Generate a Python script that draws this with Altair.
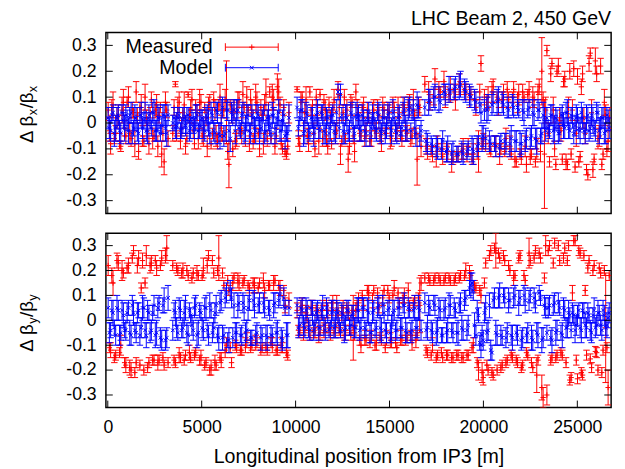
import altair as alt
import pandas as pd

# ---------------- data ----------------
# BPM set A
pos = [20, 150, 280, 420, 560, 690, 830, 960, 1100, 1240, 1370, 1510, 1640, 1780, 1920, 2050, 2190, 2320, 2460, 2600, 2730, 2870, 3000, 3140,
       3460, 3600, 3730, 3870, 4000, 4140, 4280, 4410, 4550, 4680, 4820, 4960, 5090, 5230, 5360, 5500, 5640, 5770, 5910, 6040, 6180, 6320, 6450, 6590,
       6720, 6860, 6990, 7130, 7260, 7400, 7540, 7670, 7810, 7940, 8080, 8220, 8350, 8490, 8620, 8760, 8900, 9030, 9170, 9300, 9440, 9580,
       10080, 10220, 10350, 10490, 10620, 10760, 10900, 11030, 11170, 11300, 11440, 11580, 11710, 11850, 11980, 12120, 12260, 12390, 12530, 12660, 12800, 12940, 13070, 13210,
       13350, 13480, 13620, 13750, 13890, 14030, 14160, 14300, 14430, 14570, 14710, 14840, 14980, 15110, 15250, 15390, 15520, 15660, 15790, 15930, 16070, 16200, 16340, 16470, 16610,
       16880, 17020, 17150, 17290, 17420, 17560, 17700, 17830, 17970, 18100, 18240, 18380, 18510, 18650, 18780, 18920, 19060, 19190, 19330, 19460, 19600, 19740, 19870, 19990,
       20120, 20250, 20390, 20520, 20660, 20800, 20930, 21070, 21200, 21340, 21480, 21610, 21750, 21880, 22020, 22160, 22290, 22430, 22560, 22700, 22840, 22970, 23110, 23250,
       23380, 23520, 23650, 23790, 23920, 24060, 24200, 24330, 24470, 24600, 24740, 24880, 25010, 25150, 25280, 25420, 25560, 25690, 25830, 25960, 26100, 26240, 26370, 26510, 26640]

dbx_meas = [0.05, -0.08, 0.07, -0.04, 0.03, -0.09, 0.08, -0.05, 0.10, -0.06, 0.04, 0.12, -0.11, 0.06, -0.07, 0.02, -0.08, 0.09, -0.05, 0.07, 0.03, -0.12, -0.15, 0.05,
            -0.04, 0.15, 0.06, -0.07, 0.04, -0.09, 0.11, 0.05, -0.03, 0.07, -0.06, 0.08, -0.04, 0.02, 0.06, -0.08, 0.09, -0.05, 0.07, -0.02, 0.05, 0.08, -0.16, 0.04,
            0.05, -0.06, 0.09, -0.03, 0.06, 0.10, -0.08, 0.04, -0.05, 0.08, -0.10, 0.03, 0.07, -0.06, 0.12, 0.10, -0.09, 0.14, 0.07, -0.10, -0.11, -0.09,
            0.13, -0.08, 0.10, 0.04, -0.05, 0.12, 0.06, -0.10, 0.03, 0.11, -0.06, 0.05, -0.09, 0.02, 0.06, -0.04, 0.13, -0.12, 0.04, -0.06, -0.14, 0.07, -0.05, 0.12,
            0.04, -0.05, 0.06, -0.03, 0.02, -0.06, 0.05, -0.04, 0.03, -0.07, 0.05, -0.02, 0.04, -0.05, 0.06, -0.03, 0.02, -0.06, 0.05, -0.04, 0.07, -0.05, 0.03, -0.14, 0.06,
            0.15, -0.10, 0.08, -0.12, 0.17, -0.08, 0.12, -0.13, 0.10, -0.11, 0.13, -0.14, 0.09, -0.12, 0.14, -0.10, 0.12, -0.09, 0.11, -0.12, 0.06, -0.11, 0.23, -0.07,
            -0.08, 0.10, -0.11, 0.14, -0.09, 0.06, -0.10, 0.12, -0.06, 0.09, -0.12, 0.13, -0.15, 0.11, -0.13, 0.10, -0.16, 0.12, -0.12, 0.09, -0.10, 0.14, 0.20, -0.12,
            0.28, -0.15, 0.23, -0.10, 0.20, 0.02, -0.14, 0.17, -0.16, 0.20, 0.05, -0.17, 0.18, -0.13, 0.19, -0.04, -0.20, 0.27, -0.18, 0.24, -0.06, 0.22, -0.12, 0.03, -0.07]

dbx_meas_err = [0.03, 0.04, 0.05, 0.03, 0.04, 0.02, 0.05, 0.03, 0.04, 0.03, 0.02, 0.04, 0.03, 0.05, 0.02, 0.03, 0.04, 0.03, 0.02, 0.04, 0.03, 0.05, 0.05, 0.03,
                0.03, 0.01, 0.04, 0.03, 0.02, 0.03, 0.01, 0.04, 0.03, 0.02, 0.04, 0.03, 0.05, 0.03, 0.04, 0.02, 0.03, 0.04, 0.02, 0.05, 0.03, 0.16, 0.09, 0.04,
                0.04, 0.03, 0.03, 0.05, 0.02, 0.04, 0.03, 0.05, 0.03, 0.04, 0.03, 0.02, 0.04, 0.03, 0.02, 0.05, 0.03, 0.05, 0.03, 0.02, 0.02, 0.03,
                0.01, 0.03, 0.02, 0.04, 0.03, 0.02, 0.03, 0.03, 0.04, 0.02, 0.03, 0.04, 0.03, 0.03, 0.02, 0.04, 0.03, 0.04, 0.03, 0.02, 0.05, 0.04, 0.03, 0.03,
                0.03, 0.02, 0.04, 0.03, 0.02, 0.03, 0.04, 0.02, 0.03, 0.04, 0.03, 0.02, 0.03, 0.04, 0.02, 0.03, 0.04, 0.03, 0.02, 0.03, 0.04, 0.03, 0.02, 0.10, 0.03,
                0.03, 0.04, 0.03, 0.03, 0.04, 0.03, 0.02, 0.03, 0.04, 0.03, 0.05, 0.02, 0.04, 0.03, 0.02, 0.04, 0.03, 0.03, 0.02, 0.04, 0.03, 0.08, 0.03, 0.03,
                0.03, 0.04, 0.02, 0.03, 0.04, 0.03, 0.02, 0.03, 0.04, 0.03, 0.02, 0.03, 0.02, 0.04, 0.03, 0.02, 0.03, 0.04, 0.02, 0.03, 0.04, 0.03, 0.13, 0.21,
                0.02, 0.02, 0.02, 0.03, 0.02, 0.04, 0.02, 0.03, 0.02, 0.03, 0.04, 0.02, 0.03, 0.02, 0.03, 0.04, 0.02, 0.02, 0.03, 0.05, 0.04, 0.03, 0.02, 0.04, 0.04]

dbx_model = [0.02, -0.03, 0.04, -0.02, 0.03, -0.04, 0.01, 0.03, -0.03, 0.04, -0.02, 0.02, -0.04, 0.03, 0.01, -0.03, 0.03, -0.02, 0.04, -0.03, 0.02, -0.01, 0.03, -0.04,
             0.00, -0.02, 0.02, -0.03, 0.01, -0.01, 0.03, -0.02, 0.00, 0.02, -0.03, 0.01, -0.02, 0.03, 0.00, 0.04, -0.03, 0.05, -0.04, 0.04, -0.05, 0.05, -0.03, 0.04,
             0.05, 0.04, -0.02, 0.03, -0.04, 0.02, -0.03, 0.03, -0.02, 0.04, -0.03, 0.01, -0.04, 0.02, -0.01, 0.03, -0.04, 0.02, -0.03, 0.01, -0.05, -0.04,
             0.06, 0.02, 0.05, -0.03, 0.03, -0.04, 0.02, -0.02, 0.04, -0.03, 0.03, -0.04, 0.02, -0.02, 0.03, -0.04, 0.12, 0.11, -0.03, 0.03, -0.04, 0.04, -0.02, 0.03,
             0.03, -0.03, 0.02, -0.04, 0.04, -0.02, 0.01, -0.03, 0.03, -0.04, 0.02, -0.02, 0.04, -0.03, 0.02, -0.04, 0.03, -0.02, 0.05, -0.03, 0.06, 0.04, -0.02, 0.07, -0.05,
             0.06, -0.08, 0.09, -0.09, 0.10, -0.10, 0.08, -0.07, 0.11, -0.10, 0.12, -0.11, 0.14, -0.12, 0.15, -0.12, 0.12, -0.10, 0.10, -0.11, 0.08, -0.08, 0.04, -0.05,
             -0.06, 0.06, -0.08, 0.08, -0.09, 0.09, -0.07, 0.07, -0.08, 0.05, -0.06, 0.06, -0.07, 0.05, -0.08, 0.04, -0.06, 0.06, -0.05, 0.03, -0.07, 0.05, -0.04, 0.02,
             0.02, -0.03, 0.03, -0.02, 0.01, -0.04, 0.03, -0.02, 0.04, -0.03, 0.02, -0.01, 0.03, -0.03, 0.02, -0.04, 0.03, -0.02, 0.01, -0.03, 0.04, -0.02, 0.02, -0.03, 0.01]

model_err = [0.04, 0.04, 0.03, 0.05, 0.04, 0.04, 0.03, 0.04, 0.05, 0.04, 0.03, 0.04, 0.04, 0.05, 0.03, 0.04, 0.04, 0.03, 0.05, 0.04, 0.04, 0.03, 0.04, 0.05,
             0.03, 0.04, 0.04, 0.03, 0.05, 0.04, 0.03, 0.04, 0.04, 0.05, 0.03, 0.04, 0.04, 0.03, 0.05, 0.04, 0.04, 0.03, 0.04, 0.05, 0.04, 0.03, 0.04, 0.04,
             0.04, 0.05, 0.03, 0.04, 0.04, 0.05, 0.03, 0.04, 0.04, 0.03, 0.05, 0.04, 0.04, 0.03, 0.04, 0.05, 0.04, 0.03, 0.04, 0.04, 0.05, 0.03,
             0.04, 0.03, 0.04, 0.05, 0.04, 0.03, 0.04, 0.04, 0.05, 0.03, 0.04, 0.04, 0.03, 0.05, 0.04, 0.04, 0.03, 0.04, 0.05, 0.04, 0.03, 0.04, 0.04, 0.05,
             0.04, 0.04, 0.03, 0.05, 0.04, 0.04, 0.03, 0.04, 0.05, 0.04, 0.03, 0.04, 0.04, 0.05, 0.03, 0.04, 0.04, 0.03, 0.05, 0.04, 0.04, 0.03, 0.04, 0.05, 0.04,
             0.03, 0.04, 0.04, 0.03, 0.05, 0.04, 0.03, 0.04, 0.04, 0.05, 0.03, 0.04, 0.04, 0.03, 0.05, 0.04, 0.04, 0.03, 0.04, 0.05, 0.04, 0.03, 0.04, 0.04,
             0.04, 0.05, 0.03, 0.04, 0.04, 0.05, 0.03, 0.04, 0.04, 0.03, 0.05, 0.04, 0.04, 0.03, 0.04, 0.05, 0.04, 0.03, 0.04, 0.04, 0.05, 0.03, 0.04, 0.04,
             0.04, 0.03, 0.04, 0.05, 0.04, 0.03, 0.04, 0.04, 0.05, 0.03, 0.04, 0.04, 0.03, 0.05, 0.04, 0.04, 0.03, 0.04, 0.05, 0.04, 0.03, 0.04, 0.04, 0.05, 0.04]

dby_meas = [0.22, -0.12, 0.15, -0.14, 0.23, -0.10, 0.19, -0.18, 0.22, -0.20, 0.28, -0.17, 0.25, 0.13, -0.20, 0.26, -0.17, 0.23, -0.16, 0.21, -0.16, 0.25, -0.18, 0.29,
            0.22, -0.17, 0.20, -0.15, 0.20, -0.14, 0.18, -0.15, 0.19, -0.13, 0.18, -0.15, 0.21, -0.17, 0.26, -0.19, 0.19, -0.18, 0.25, -0.16, 0.14, -0.10, 0.12, -0.17,
            0.17, -0.11, 0.15, -0.12, 0.16, -0.08, 0.13, -0.10, 0.14, -0.09, 0.15, -0.11, 0.12, -0.12, 0.14, -0.10, 0.16, -0.12, 0.13, -0.11, 0.06, -0.14,
            0.04, -0.05, 0.06, -0.03, 0.02, -0.06, 0.05, -0.04, 0.03, -0.05, 0.06, -0.02, 0.04, -0.06, 0.07, -0.03, 0.02, -0.05, 0.05, -0.04, 0.03, -0.06, -0.03, 0.04,
            0.09, -0.10, 0.06, -0.08, 0.11, -0.06, 0.12, -0.09, 0.05, -0.08, 0.12, -0.07, 0.09, -0.09, 0.13, -0.11, 0.07, -0.08, 0.10, -0.07, 0.06, -0.09, 0.08, -0.06, 0.06,
            0.17, -0.13, 0.16, -0.10, 0.17, -0.14, 0.16, -0.15, 0.17, -0.14, 0.16, -0.15, 0.17, -0.14, 0.18, -0.15, 0.20, -0.14, 0.18, -0.10, 0.13, -0.20, 0.10, -0.23,
            0.23, -0.20, 0.28, -0.22, 0.28, 0.27, -0.19, 0.26, -0.17, 0.22, -0.14, 0.17, -0.16, 0.25, -0.19, 0.18, -0.13, 0.27, -0.17, 0.25, -0.22, 0.27, -0.27, 0.17,
            -0.30, 0.30, -0.15, 0.31, -0.14, 0.24, -0.14, 0.29, 0.24, -0.24, 0.11, 0.32, -0.235, 0.27, -0.22, 0.12, 0.21, -0.155, 0.20, -0.125, -0.20, 0.19, -0.12, -0.03, -0.27]

dby_meas_err = [0.04, 0.03, 0.05, 0.02, 0.03, 0.04, 0.02, 0.03, 0.03, 0.03, 0.02, 0.02, 0.03, 0.02, 0.02, 0.04, 0.02, 0.03, 0.02, 0.03, 0.02, 0.03, 0.02, 0.05,
                0.02, 0.02, 0.02, 0.02, 0.03, 0.02, 0.02, 0.02, 0.02, 0.02, 0.02, 0.03, 0.04, 0.02, 0.02, 0.03, 0.02, 0.02, 0.09, 0.03, 0.02, 0.03, 0.02, 0.02,
                0.02, 0.02, 0.03, 0.02, 0.02, 0.03, 0.02, 0.02, 0.03, 0.02, 0.02, 0.02, 0.03, 0.02, 0.02, 0.03, 0.02, 0.02, 0.03, 0.02, 0.03, 0.02,
                0.03, 0.02, 0.03, 0.02, 0.03, 0.02, 0.03, 0.03, 0.02, 0.03, 0.02, 0.03, 0.03, 0.02, 0.03, 0.02, 0.03, 0.02, 0.03, 0.02, 0.03, 0.02, 0.13, 0.03,
                0.02, 0.03, 0.02, 0.02, 0.03, 0.02, 0.02, 0.03, 0.02, 0.02, 0.02, 0.03, 0.02, 0.02, 0.03, 0.02, 0.02, 0.02, 0.03, 0.02, 0.02, 0.03, 0.02, 0.02, 0.11,
                0.02, 0.02, 0.02, 0.03, 0.02, 0.02, 0.02, 0.02, 0.02, 0.02, 0.02, 0.02, 0.02, 0.02, 0.02, 0.02, 0.03, 0.02, 0.02, 0.03, 0.02, 0.04, 0.03, 0.03,
                0.02, 0.02, 0.02, 0.02, 0.07, 0.02, 0.02, 0.02, 0.02, 0.02, 0.02, 0.03, 0.02, 0.02, 0.02, 0.02, 0.02, 0.06, 0.02, 0.02, 0.07, 0.02, 0.05, 0.02,
                0.04, 0.02, 0.02, 0.02, 0.02, 0.02, 0.02, 0.02, 0.02, 0.02, 0.03, 0.02, 0.02, 0.02, 0.02, 0.02, 0.02, 0.02, 0.02, 0.02, 0.02, 0.02, 0.02, 0.22, 0.07]

dby_model = [0.05, -0.04, 0.03, -0.06, 0.04, -0.05, 0.02, -0.04, 0.05, -0.06, 0.03, -0.05, 0.04, -0.03, 0.05, -0.06, 0.03, -0.04, 0.06, -0.05, 0.07, -0.08, 0.08, -0.07,
             -0.04, 0.03, -0.05, 0.04, -0.03, 0.05, -0.06, 0.02, -0.04, 0.06, -0.05, 0.03, -0.04, 0.05, -0.06, 0.04, -0.03, 0.06, -0.07, 0.08, -0.06, 0.11, -0.08, 0.09,
             0.06, -0.05, 0.07, -0.06, 0.05, -0.04, 0.08, -0.07, 0.06, -0.05, 0.07, -0.06, 0.05, -0.07, 0.04, -0.06, 0.07, -0.05, 0.10, -0.08, 0.05, -0.06,
             0.06, -0.02, 0.04, -0.03, 0.05, -0.04, 0.03, -0.02, 0.04, -0.03, 0.05, -0.04, 0.03, -0.03, 0.04, -0.02, 0.03, -0.04, 0.02, -0.03, 0.04, -0.02, 0.03, -0.03,
             0.04, -0.03, 0.05, -0.04, 0.03, -0.05, 0.04, -0.03, 0.06, -0.04, 0.03, -0.05, 0.05, -0.03, 0.04, -0.04, 0.05, -0.03, 0.06, -0.05, 0.04, -0.04, 0.05, -0.03, 0.04,
             0.07, -0.03, 0.05, -0.05, 0.06, -0.04, 0.04, -0.06, 0.05, -0.04, 0.06, -0.05, 0.04, -0.05, 0.07, -0.04, 0.09, -0.02, 0.14, 0.12, -0.06, 0.02, -0.10, -0.08,
             0.05, -0.04, -0.12, 0.08, -0.05, 0.09, -0.06, 0.10, -0.07, 0.08, -0.06, 0.09, -0.05, 0.07, -0.08, 0.10, -0.06, 0.08, -0.07, 0.09, -0.05, 0.11, -0.08, 0.06,
             -0.05, 0.06, -0.08, 0.07, -0.04, 0.05, -0.06, 0.04, -0.03, 0.02, 0.03, -0.04, 0.02, -0.03, 0.04, -0.02, 0.03, -0.04, 0.02, -0.03, 0.03, -0.02, 0.04, -0.03, 0.01]

# BPM set B (interleaved with set A)
pos2 = [85, 215, 350, 490, 625, 760, 895, 1030, 1170, 1305, 1440, 1575, 1710, 1850, 1985, 2120, 2255, 2390, 2530, 2665, 2800, 2935, 3070, 3210,
        3530, 3665, 3800, 3935, 4070, 4210, 4345, 4480, 4615, 4750, 4890, 5025, 5160, 5295, 5430, 5570, 5705, 5840, 5975, 6110, 6250, 6385, 6520, 6655,
        6790, 6925, 7060, 7195, 7330, 7470, 7605, 7740, 7875, 8010, 8150, 8285, 8420, 8555, 8690, 8830, 8965, 9100, 9235, 9370, 9510, 9645,
        10150, 10285, 10420, 10555, 10690, 10830, 10965, 11100, 11235, 11370, 11510, 11645, 11780, 11915, 12050, 12190, 12325, 12460, 12595, 12730, 12870, 13005, 13140, 13280,
        13415, 13550, 13685, 13820, 13960, 14095, 14230, 14365, 14500, 14640, 14775, 14910, 15045, 15180, 15320, 15455, 15590, 15725, 15860, 16000, 16135, 16270, 16405, 16540, 16680,
        16950, 17085, 17220, 17355, 17490, 17630, 17765, 17900, 18035, 18170, 18310, 18445, 18580, 18715, 18850, 18990, 19125, 19260, 19395, 19530, 19670, 19805, 19930, 20055,
        20185, 20320, 20455, 20590, 20730, 20865, 21000, 21135, 21270, 21410, 21545, 21680, 21815, 21950, 22090, 22225, 22360, 22495, 22630, 22770, 22905, 23040, 23180, 23315,
        23450, 23585, 23720, 23855, 23990, 24130, 24265, 24400, 24535, 24670, 24810, 24945, 25080, 25215, 25350, 25490, 25625, 25760, 25895, 26030, 26170, 26305, 26440, 26575, 26700]

dbx_meas2 = [-0.03, 0.06, -0.06, 0.02, -0.07, 0.05, -0.02, 0.08, -0.04, 0.05, -0.08, 0.03, 0.06, -0.05, 0.10, -0.03, 0.04, -0.06, 0.05, -0.09, 0.06, -0.04, 0.08, -0.06,
             0.06, -0.05, 0.08, -0.02, 0.07, -0.06, 0.03, 0.09, -0.08, 0.04, 0.08, -0.05, 0.06, -0.09, 0.08, -0.04, 0.05, -0.07, 0.10, -0.05, 0.09, -0.11, 0.07, -0.10,
             -0.07, 0.08, -0.04, 0.11, -0.06, 0.05, 0.09, -0.07, 0.10, -0.04, 0.06, -0.08, 0.11, 0.05, -0.06, 0.09, -0.05, 0.12, -0.08, 0.06, -0.12, 0.04,
             -0.06, 0.08, -0.03, 0.09, -0.08, 0.05, -0.04, 0.10, -0.07, 0.04, 0.08, -0.05, 0.07, -0.08, 0.09, -0.03, 0.06, -0.07, 0.10, 0.05, -0.09, 0.08, -0.11, 0.06,
             -0.04, 0.06, -0.05, 0.05, -0.07, 0.04, -0.03, 0.07, -0.05, 0.06, -0.04, 0.05, -0.06, 0.08, -0.04, 0.06, -0.05, 0.07, -0.03, 0.08, -0.06, 0.09, -0.04, 0.07, -0.09,
             -0.09, 0.12, -0.11, 0.10, -0.13, 0.13, -0.10, 0.16, -0.12, 0.11, -0.15, 0.12, -0.13, 0.15, -0.11, 0.13, -0.12, 0.10, -0.14, 0.09, -0.10, 0.12, -0.08, 0.10,
             0.08, -0.10, 0.12, -0.08, 0.10, -0.12, 0.09, -0.11, 0.13, -0.09, 0.10, -0.14, 0.08, -0.12, 0.12, -0.09, 0.11, -0.13, 0.10, -0.15, 0.12, -0.11, 0.09, 0.05,
             -0.04, 0.19, 0.05, -0.16, 0.22, -0.03, 0.16, -0.15, 0.06, -0.12, 0.21, -0.04, -0.15, 0.14, 0.02, -0.18, 0.23, 0.04, -0.14, 0.19, -0.05, -0.16, 0.08, -0.10, 0.02]

dbx_meas_err2 = [0.04, 0.03, 0.02, 0.04, 0.03, 0.05, 0.03, 0.02, 0.04, 0.03, 0.05, 0.03, 0.02, 0.04, 0.05, 0.03, 0.02, 0.04, 0.03, 0.04, 0.02, 0.03, 0.04, 0.03,
                 0.03, 0.02, 0.04, 0.03, 0.05, 0.02, 0.03, 0.04, 0.02, 0.03, 0.05, 0.03, 0.02, 0.04, 0.03, 0.02, 0.04, 0.03, 0.05, 0.02, 0.04, 0.03, 0.02, 0.03,
                 0.03, 0.04, 0.02, 0.05, 0.03, 0.02, 0.04, 0.03, 0.05, 0.02, 0.03, 0.04, 0.06, 0.03, 0.02, 0.04, 0.03, 0.05, 0.02, 0.03, 0.02, 0.04,
                 0.03, 0.04, 0.02, 0.05, 0.03, 0.02, 0.04, 0.03, 0.05, 0.02, 0.03, 0.04, 0.03, 0.02, 0.04, 0.03, 0.05, 0.02, 0.03, 0.04, 0.03, 0.02, 0.04, 0.03,
                 0.03, 0.02, 0.04, 0.03, 0.02, 0.04, 0.03, 0.02, 0.03, 0.04, 0.02, 0.03, 0.04, 0.02, 0.03, 0.04, 0.02, 0.03, 0.04, 0.02, 0.03, 0.04, 0.02, 0.03, 0.04,
                 0.03, 0.04, 0.02, 0.03, 0.04, 0.03, 0.02, 0.04, 0.03, 0.02, 0.04, 0.03, 0.02, 0.04, 0.03, 0.02, 0.03, 0.04, 0.02, 0.03, 0.04, 0.03, 0.02, 0.03,
                 0.03, 0.02, 0.04, 0.03, 0.02, 0.04, 0.03, 0.02, 0.03, 0.04, 0.02, 0.03, 0.04, 0.02, 0.03, 0.04, 0.02, 0.03, 0.04, 0.02, 0.03, 0.04, 0.03, 0.05,
                 0.04, 0.03, 0.05, 0.02, 0.03, 0.04, 0.02, 0.03, 0.04, 0.02, 0.03, 0.05, 0.02, 0.03, 0.04, 0.02, 0.03, 0.05, 0.02, 0.03, 0.04, 0.02, 0.05, 0.03, 0.04]

dbx_model2 = [-0.02, 0.03, -0.04, 0.02, -0.03, 0.04, -0.02, 0.01, 0.03, -0.04, 0.02, -0.03, 0.03, -0.02, 0.04, -0.03, 0.01, 0.04, -0.03, 0.02, -0.04, 0.03, -0.02, 0.03,
              0.02, -0.01, 0.03, -0.02, 0.02, 0.01, -0.03, 0.02, -0.02, 0.03, -0.01, 0.02, -0.03, 0.02, -0.04, 0.03, -0.04, 0.04, -0.05, 0.06, -0.04, 0.05, -0.06, 0.03,
              -0.03, 0.05, -0.03, 0.04, -0.02, 0.03, -0.04, 0.02, -0.03, 0.03, -0.02, 0.04, -0.03, 0.02, -0.04, 0.03, -0.02, 0.04, -0.03, 0.03, -0.04, 0.02,
              -0.02, 0.05, -0.04, 0.04, -0.03, 0.02, -0.04, 0.03, -0.02, 0.04, -0.03, 0.02, -0.04, 0.03, -0.03, 0.04, -0.02, 0.03, -0.04, 0.02, -0.03, 0.03, -0.04, 0.02,
              -0.02, 0.03, -0.03, 0.02, -0.04, 0.03, -0.02, 0.04, -0.03, 0.02, -0.04, 0.03, -0.02, 0.04, -0.03, 0.02, -0.04, 0.04, -0.02, 0.05, -0.03, 0.05, -0.04, 0.06, -0.03,
              -0.07, 0.08, -0.08, 0.10, -0.09, 0.09, -0.10, 0.12, -0.11, 0.13, -0.12, 0.13, -0.12, 0.14, -0.11, 0.13, -0.11, 0.11, -0.10, 0.09, -0.09, 0.07, -0.06, 0.05,
              0.05, -0.07, 0.07, -0.08, 0.08, -0.09, 0.08, -0.07, 0.06, -0.08, 0.07, -0.07, 0.06, -0.08, 0.05, -0.07, 0.05, -0.06, 0.04, -0.06, 0.05, -0.05, 0.03, -0.03,
              -0.02, 0.03, -0.03, 0.02, -0.04, 0.03, -0.01, 0.04, -0.02, 0.03, -0.04, 0.02, -0.02, 0.04, -0.03, 0.02, -0.03, 0.03, -0.02, 0.04, -0.03, 0.02, -0.04, 0.03, -0.02]

model_err2 = [0.04, 0.03, 0.05, 0.04, 0.04, 0.03, 0.05, 0.04, 0.03, 0.04, 0.05, 0.04, 0.03, 0.04, 0.04, 0.05, 0.03, 0.04, 0.04, 0.05, 0.03, 0.04, 0.05, 0.04,
              0.04, 0.05, 0.03, 0.04, 0.04, 0.05, 0.04, 0.03, 0.04, 0.04, 0.05, 0.03, 0.04, 0.05, 0.04, 0.03, 0.04, 0.04, 0.05, 0.04, 0.03, 0.04, 0.05, 0.04,
              0.05, 0.04, 0.03, 0.04, 0.05, 0.04, 0.04, 0.03, 0.05, 0.04, 0.04, 0.03, 0.04, 0.05, 0.04, 0.03, 0.04, 0.05, 0.04, 0.04, 0.03, 0.05,
              0.03, 0.04, 0.05, 0.04, 0.03, 0.04, 0.05, 0.04, 0.04, 0.03, 0.05, 0.04, 0.04, 0.03, 0.04, 0.05, 0.04, 0.03, 0.04, 0.05, 0.04, 0.04, 0.03, 0.04,
              0.05, 0.04, 0.04, 0.03, 0.05, 0.04, 0.04, 0.03, 0.04, 0.05, 0.04, 0.04, 0.03, 0.05, 0.04, 0.04, 0.03, 0.04, 0.05, 0.04, 0.03, 0.04, 0.05, 0.04, 0.04,
              0.04, 0.05, 0.03, 0.04, 0.04, 0.05, 0.04, 0.03, 0.04, 0.05, 0.04, 0.04, 0.03, 0.05, 0.04, 0.04, 0.03, 0.04, 0.05, 0.04, 0.04, 0.03, 0.05, 0.04,
              0.05, 0.04, 0.04, 0.03, 0.05, 0.04, 0.04, 0.03, 0.04, 0.05, 0.04, 0.04, 0.03, 0.05, 0.04, 0.04, 0.03, 0.04, 0.05, 0.04, 0.04, 0.03, 0.05, 0.04,
              0.03, 0.04, 0.05, 0.04, 0.04, 0.03, 0.05, 0.04, 0.04, 0.03, 0.04, 0.05, 0.04, 0.04, 0.03, 0.05, 0.04, 0.04, 0.03, 0.04, 0.05, 0.04, 0.04, 0.03, 0.04]

dby_meas2 = [-0.11, 0.18, -0.15, 0.24, -0.13, 0.20, -0.17, 0.21, -0.19, 0.25, -0.21, 0.22, -0.18, 0.24, 0.15, -0.19, 0.22, -0.16, 0.24, -0.17, 0.22, -0.15, 0.26, -0.17,
             -0.16, 0.21, -0.14, 0.19, -0.16, 0.20, -0.13, 0.17, -0.14, 0.19, -0.16, 0.18, -0.18, 0.22, -0.20, 0.24, -0.17, 0.20, -0.15, 0.19, -0.12, 0.16, -0.11, 0.15,
             -0.10, 0.16, -0.12, 0.15, -0.10, 0.14, -0.11, 0.15, -0.09, 0.13, -0.12, 0.16, -0.11, 0.14, -0.09, 0.15, -0.12, 0.14, -0.10, 0.12, -0.13, 0.08,
             -0.04, 0.05, -0.06, 0.03, -0.02, 0.05, -0.05, 0.04, -0.06, 0.02, -0.04, 0.06, -0.03, 0.05, -0.05, 0.07, -0.04, 0.03, -0.06, 0.05, -0.02, 0.04, -0.05, 0.06,
             -0.08, 0.10, -0.07, 0.12, -0.09, 0.08, -0.10, 0.11, -0.07, 0.09, -0.11, 0.12, -0.08, 0.10, -0.09, 0.11, -0.07, 0.09, -0.08, 0.12, -0.06, 0.07, -0.08, 0.09, 0.15,
             -0.12, 0.17, -0.14, 0.16, -0.15, 0.17, -0.13, 0.16, -0.14, 0.17, -0.15, 0.16, -0.14, 0.17, -0.15, 0.18, -0.14, 0.19, -0.11, 0.14, -0.17, 0.12, -0.21, 0.15,
             -0.18, 0.26, -0.21, 0.29, -0.20, 0.25, -0.18, 0.24, -0.16, 0.20, -0.15, 0.18, -0.17, 0.26, -0.18, 0.16, -0.14, 0.24, -0.19, 0.28, -0.16, 0.25, -0.31, 0.30,
             0.28, -0.16, 0.23, -0.15, 0.30, -0.13, 0.25, -0.17, 0.30, -0.23, 0.32, -0.16, 0.28, -0.21, 0.26, -0.14, 0.24, -0.19, 0.22, -0.13, 0.21, -0.21, 0.20, -0.11, 0.18]

dby_meas_err2 = [0.02, 0.03, 0.02, 0.03, 0.02, 0.04, 0.02, 0.02, 0.03, 0.02, 0.02, 0.03, 0.02, 0.03, 0.02, 0.02, 0.03, 0.02, 0.02, 0.03, 0.02, 0.02, 0.03, 0.02,
                 0.02, 0.02, 0.03, 0.02, 0.02, 0.02, 0.03, 0.02, 0.02, 0.03, 0.02, 0.02, 0.02, 0.03, 0.02, 0.02, 0.03, 0.02, 0.02, 0.02, 0.03, 0.02, 0.02, 0.03,
                 0.02, 0.03, 0.02, 0.02, 0.03, 0.02, 0.02, 0.02, 0.03, 0.02, 0.02, 0.03, 0.02, 0.02, 0.02, 0.03, 0.02, 0.02, 0.03, 0.02, 0.02, 0.03,
                 0.02, 0.03, 0.02, 0.03, 0.02, 0.03, 0.02, 0.02, 0.03, 0.02, 0.03, 0.02, 0.02, 0.03, 0.02, 0.03, 0.02, 0.03, 0.02, 0.02, 0.03, 0.02, 0.03, 0.02,
                 0.02, 0.02, 0.03, 0.02, 0.02, 0.03, 0.02, 0.02, 0.02, 0.03, 0.02, 0.02, 0.03, 0.02, 0.02, 0.02, 0.03, 0.02, 0.02, 0.03, 0.02, 0.02, 0.03, 0.02, 0.03,
                 0.02, 0.02, 0.02, 0.02, 0.02, 0.02, 0.02, 0.02, 0.02, 0.02, 0.02, 0.02, 0.02, 0.02, 0.02, 0.02, 0.02, 0.03, 0.02, 0.02, 0.02, 0.02, 0.04, 0.02,
                 0.02, 0.02, 0.02, 0.02, 0.02, 0.02, 0.02, 0.02, 0.02, 0.02, 0.02, 0.02, 0.02, 0.02, 0.02, 0.02, 0.02, 0.02, 0.02, 0.02, 0.02, 0.02, 0.04, 0.04,
                 0.02, 0.02, 0.02, 0.02, 0.02, 0.02, 0.02, 0.02, 0.02, 0.02, 0.02, 0.02, 0.02, 0.02, 0.02, 0.02, 0.02, 0.02, 0.02, 0.02, 0.02, 0.02, 0.02, 0.02, 0.02]

dby_model2 = [-0.05, 0.04, -0.03, 0.05, -0.06, 0.04, -0.04, 0.03, -0.05, 0.06, -0.04, 0.03, -0.06, 0.05, -0.04, 0.04, -0.05, 0.03, -0.06, 0.05, -0.07, 0.06, -0.08, 0.09,
              0.04, -0.03, 0.05, -0.04, 0.03, -0.05, 0.04, -0.02, 0.05, -0.06, 0.04, -0.03, 0.05, -0.04, 0.06, -0.05, 0.03, -0.06, 0.07, -0.07, 0.09, -0.08, 0.12, -0.07,
              -0.05, 0.06, -0.06, 0.07, -0.05, 0.05, -0.07, 0.08, -0.06, 0.06, -0.07, 0.07, -0.06, 0.05, -0.06, 0.06, -0.05, 0.08, -0.07, 0.09, -0.06, 0.05,
              -0.03, 0.05, -0.02, 0.04, -0.03, 0.05, -0.04, 0.03, -0.03, 0.04, -0.02, 0.05, -0.04, 0.03, -0.03, 0.04, -0.02, 0.03, -0.04, 0.04, -0.03, 0.02, -0.03, 0.04,
              -0.04, 0.05, -0.03, 0.04, -0.05, 0.03, -0.04, 0.05, -0.03, 0.06, -0.04, 0.04, -0.05, 0.03, -0.04, 0.05, -0.03, 0.06, -0.04, 0.05, -0.05, 0.04, -0.03, 0.05, -0.04,
              -0.04, 0.06, -0.04, 0.07, -0.05, 0.05, -0.06, 0.04, -0.05, 0.06, -0.04, 0.05, -0.05, 0.06, -0.03, 0.08, -0.04, 0.13, 0.15, -0.02, 0.04, -0.09, -0.06, 0.03,
              -0.05, 0.06, -0.13, 0.09, -0.06, 0.10, -0.07, 0.09, -0.05, 0.08, -0.07, 0.10, -0.06, 0.09, -0.07, 0.08, -0.05, 0.10, -0.08, 0.07, -0.06, 0.09, -0.07, 0.05,
              0.05, -0.07, 0.06, -0.05, 0.07, -0.05, 0.05, -0.03, 0.03, -0.04, 0.02, -0.02, 0.04, -0.04, 0.03, -0.03, 0.02, -0.05, 0.04, -0.02, 0.03, -0.04, 0.02, -0.02, 0.03]

y_ticks = [-0.3, -0.2, -0.1, 0, 0.1, 0.2, 0.3]
x_ticks = [0, 5000, 10000, 15000, 20000, 25000]
title_text = "LHC Beam 2, 450 GeV"
x_title = "Longitudinal position from IP3 [m]"
legend_labels = ["Measured", "Model"]

# ---------------- styling ----------------
FONT = "Liberation Sans"
RED = "#ff0000"
BLUE = "#0000ff"
PLUS = "M-1,0H1M0,-1V1"
XMARK = "M-1,-1L1,1M-1,1L1,-1"
CAP = "M-1,0H1"
W = 516
TICK = 7

xscale = alt.Scale(domain=[-100, 26800], nice=False, zero=False)
yscale = alt.Scale(domain=[-0.35, 0.35], nice=False, zero=False)
one_row = pd.DataFrame({"k": [0]})


def txt(text, x, y, size, angle=270, align="left", baseline="alphabetic"):
    return alt.Chart(one_row).mark_text(
        text=text, font=FONT, fontSize=size, angle=angle, align=align,
        baseline=baseline, color="black"
    ).encode(x=alt.value(x), y=alt.value(y))


def vrule(x, y1, y2, color):
    return alt.Chart(one_row).mark_rule(color=color, strokeWidth=1).encode(
        x=alt.value(x), y=alt.value(y1), y2=alt.value(y2))


def series_layers(df, v, lo, hi, color, shape, psize, xaxis, yaxis):
    base = alt.Chart(df)
    X = alt.X("s:Q", scale=xscale, axis=xaxis)
    return [
        base.mark_rule(color=color, strokeWidth=1, clip=True).encode(
            x=X, y=alt.Y(f"{lo}:Q", scale=yscale, axis=yaxis), y2=f"{hi}:Q"),
        base.mark_point(shape=CAP, size=44, color=color, strokeWidth=1, filled=False, opacity=1, clip=True).encode(
            x=X, y=alt.Y(f"{lo}:Q", scale=yscale, axis=yaxis)),
        base.mark_point(shape=CAP, size=44, color=color, strokeWidth=1, filled=False, opacity=1, clip=True).encode(
            x=X, y=alt.Y(f"{hi}:Q", scale=yscale, axis=yaxis)),
        base.mark_point(shape=shape, size=psize, color=color, strokeWidth=1, filled=False, opacity=1, clip=True).encode(
            x=X, y=alt.Y(f"{v}:Q", scale=yscale, axis=yaxis)),
    ]


def panel(meas, merr, model, merr_model, H, sub, label_y0, show_x, top):
    df = pd.DataFrame({"s": pos + pos2, "m": meas, "me": merr, "v": model, "ve": merr_model})
    df["mlo"] = df["m"] - df["me"]
    df["mhi"] = df["m"] + df["me"]
    df["vlo"] = df["v"] - df["ve"]
    df["vhi"] = df["v"] + df["ve"]

    yaxis = alt.Axis(values=y_ticks, ticks=False, domain=False, grid=False, title=None,
                     labelExpr="datum.value == 0 ? '0' : (datum.value < 0 ? '-' + format(-datum.value, '.1f') : format(datum.value, '.1f'))",
                     labelFont=FONT, labelFontSize=18, labelColor="black", labelPadding=10)
    if show_x:
        xaxis = alt.Axis(values=x_ticks, format="d", ticks=False, domain=False, grid=False,
                         labelFont=FONT, labelFontSize=18, labelColor="black", labelPadding=12,
                         labelFlush=False, labelOverlap=False,
                         title=x_title, titleFont=FONT, titleFontSize=20, titleFontWeight="normal",
                         titleColor="black", titlePadding=10)
    else:
        xaxis = None

    layers = []
    layers += series_layers(df, "m", "mlo", "mhi", RED, PLUS, 30, xaxis, yaxis)
    layers += series_layers(df, "v", "vlo", "vhi", BLUE, XMARK, 14, xaxis, yaxis)

    # inward ticks on all four sides
    ydf = pd.DataFrame({"t": y_ticks})
    xdf = pd.DataFrame({"t": x_ticks})
    layers.append(alt.Chart(ydf).mark_rule(color="black", strokeWidth=1).encode(
        y=alt.Y("t:Q", scale=yscale, axis=yaxis), x=alt.value(0), x2=alt.value(TICK)))
    layers.append(alt.Chart(ydf).mark_rule(color="black", strokeWidth=1).encode(
        y=alt.Y("t:Q", scale=yscale, axis=yaxis), x=alt.value(W - TICK), x2=alt.value(W)))
    layers.append(alt.Chart(xdf).mark_rule(color="black", strokeWidth=1).encode(
        x=alt.X("t:Q", scale=xscale, axis=xaxis), y=alt.value(H - TICK), y2=alt.value(H)))
    layers.append(alt.Chart(xdf).mark_rule(color="black", strokeWidth=1).encode(
        x=alt.X("t:Q", scale=xscale, axis=xaxis), y=alt.value(0), y2=alt.value(TICK)))

    # rotated y label: Δ β_sub / β_sub
    bx = -74
    layers.append(txt("Δ β", bx, label_y0, 19))
    layers.append(txt(sub, bx + 4, label_y0 - 28.5, 13))
    layers.append(txt("/β", bx, label_y0 - 35.5, 19))
    layers.append(txt(sub, bx + 4, label_y0 - 52, 13))

    if top:
        layers.append(txt(title_text, W, -8, 20, angle=0, align="right"))
        # legend
        for i, (lab, col, shp, ps) in enumerate([(legend_labels[0], RED, PLUS, 30), (legend_labels[1], BLUE, XMARK, 14)]):
            yy = 15 + 21 * i
            layers.append(txt(lab, 109, yy, 20, angle=0, align="right", baseline="middle"))
            layers.append(alt.Chart(one_row).mark_rule(color=col, strokeWidth=1).encode(
                x=alt.value(122), x2=alt.value(176), y=alt.value(yy)))
            layers.append(vrule(122, yy - 4, yy + 4, col))
            layers.append(vrule(176, yy - 4, yy + 4, col))
            layers.append(alt.Chart(one_row).mark_point(shape=shp, size=ps, color=col, strokeWidth=1,
                                                        filled=False, opacity=1).encode(
                x=alt.value(149), y=alt.value(yy)))

    return alt.layer(*layers).properties(width=W, height=H)


top_panel = panel(dbx_meas + dbx_meas2, dbx_meas_err + dbx_meas_err2, dbx_model + dbx_model2,
                  model_err + model_err2, 185, "x", 113, False, True)
bottom_panel = panel(dby_meas + dby_meas2, dby_meas_err + dby_meas_err2, dby_model + dby_model2,
                     model_err2 + model_err, 178, "y", 121, True, False)

chart = alt.vconcat(top_panel, bottom_panel, spacing=16).properties(
    padding={"left": 10, "top": -5, "right": 4, "bottom": 2},
    background="white",
).configure_view(stroke="black", strokeWidth=1.5)

chart.save("out.html", embed_options={"renderer": "svg", "actions": False})
